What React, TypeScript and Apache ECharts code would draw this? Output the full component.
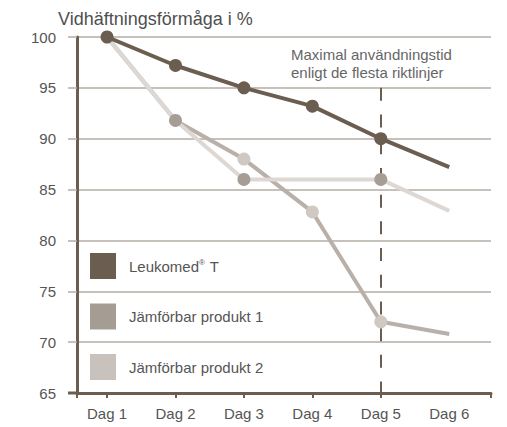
import React, { useEffect, useRef } from "react";
import * as echarts from "echarts";

const days = ["Dag 1", "Dag 2", "Dag 3", "Dag 4", "Dag 5", "Dag 6"];
const dayIndex = [1, 2, 3, 4, 5, 6];
const seriesNames = ["Leukomed® T", "Jämförbar produkt 1", "Jämförbar produkt 2"];
const leukomed = [100, 97.2, 95.0, 93.2, 90.0, 87.2];
const produkt1 = [100, 91.8, 88.0, 82.8, 72.0, 70.8];
const produkt2 = [100, 91.8, 86.0, 86.0, 86.0, 82.9];
const leukomedMarkers = [true, true, true, true, true, false];
const produkt1Markers = [false, false, true, true, true, false];
const produkt2Markers = [false, true, true, false, true, false];
const yTicks = [65, 70, 75, 80, 85, 90, 95, 100];
const limitDay = 5;
const titleText = "Vidhäftningsförmåga i %";
const noteLines = ["Maximal användningstid", "enligt de flesta riktlinjer"];

const DARK = "#6b5e51";
const MED_LINE = "#b8b0a9";
const MED_MARK = "#a69d94";
const LIGHT_LINE = "#ddd8d3";
const LIGHT_MARK = "#d0c9c3";
const GRID = "#b5aca4";
const TEXT = "#555555";
const legendColors = [DARK, "#a59c93", "#c9c2bc"];
const FONT = "'Liberation Sans', Arial, sans-serif";

const X_MIN = 0.561;
const X_MAX = 6.61;

function build(values: number[], markers: boolean[]) {
  return values.map((v, i) => ({
    value: [dayIndex[i], v],
    symbol: markers[i] ? "circle" : "none",
  }));
}

export default function App() {
  const ref = useRef<HTMLDivElement>(null);
  useEffect(() => {
    if (!ref.current) return;
    const chart = echarts.init(ref.current, null, { renderer: "svg" });
    const legendGraphics: any[] = [];
    seriesNames.forEach((name, i) => {
      const cy = 266 + i * 50.5;
      legendGraphics.push({
        type: "rect",
        shape: { x: 90, y: cy - 13, width: 26, height: 26 },
        style: { fill: legendColors[i] },
        silent: true,
      });
      legendGraphics.push({
        type: "text",
        x: 129,
        y: cy,
        style: {
          text: name.replace("®", "{sup|®}"),
          fontSize: 15,
          fontFamily: FONT,
          fill: TEXT,
          verticalAlign: "middle",
          rich: {
            sup: { fontSize: 8, verticalAlign: "top", fill: TEXT, fontFamily: FONT, padding: [0, 1, 6, 0] },
          },
        },
        silent: true,
      });
    });

    chart.setOption({
      animation: false,
      grid: { left: 77, right: 16, top: 37, bottom: 34, containLabel: false },
      xAxis: {
        type: "value",
        min: X_MIN,
        max: X_MAX,
        axisLine: { show: true, lineStyle: { color: DARK, width: 3 } },
        axisTick: {
          show: true,
          length: 5,
          inside: false,
          customValues: [X_MIN, 1, 2, 3, 4, 5, X_MAX],
          lineStyle: { color: DARK, width: 2 },
        },
        axisLabel: {
          customValues: dayIndex,
          formatter: (v: number) => days[Math.round(v) - 1],
          fontSize: 15,
          fontFamily: FONT,
          color: TEXT,
          margin: 13,
        },
        splitLine: { show: false },
      },
      yAxis: {
        type: "value",
        min: 65,
        max: 100,
        interval: 5,
        axisLine: { show: true, lineStyle: { color: DARK, width: 3 } },
        axisTick: { show: true, length: 9, inside: false, lineStyle: { color: GRID, width: 1.5 } },
        axisLabel: {
          formatter: (v: number) => (yTicks.includes(v) ? String(v) : ""),
          fontSize: 15,
          fontFamily: FONT,
          color: TEXT,
          margin: 21,
        },
        splitLine: { show: true, lineStyle: { color: GRID, width: 1.5 } },
      },
      graphic: [
        {
          type: "text",
          x: 58,
          y: 19,
          style: {
            text: titleText,
            fontSize: 18,
            fontFamily: FONT,
            fill: "#4f4f4f",
            verticalAlign: "middle",
          },
          silent: true,
        },
        {
          type: "text",
          x: 291,
          y: 45,
          style: {
            text: noteLines.join("\n"),
            fontSize: 15,
            lineHeight: 18,
            fontFamily: FONT,
            fill: "#666666",
            verticalAlign: "top",
          },
          silent: true,
        },
        {
          type: "line",
          shape: { x1: 68, y1: 393, x2: 78, y2: 393 },
          style: { stroke: DARK, lineWidth: 3 },
          silent: true,
          z: 10,
        },
        ...legendGraphics,
      ],
      series: [
        {
          name: seriesNames[1],
          type: "line",
          z: 2,
          data: build(produkt1, produkt1Markers),
          symbolSize: 13,
          lineStyle: { color: MED_LINE, width: 4 },
          itemStyle: { color: LIGHT_MARK },
          silent: true,
          markLine: {
            z: 1,
            silent: true,
            symbol: "none",
            label: { show: false },
            lineStyle: { color: DARK, width: 2, type: [13, 13.7] },
            data: [[{ coord: [limitDay, 95] }, { coord: [limitDay, 65] }]],
          },
        },
        {
          name: seriesNames[2],
          type: "line",
          z: 3,
          data: build(produkt2, produkt2Markers),
          symbolSize: 13,
          lineStyle: { color: LIGHT_LINE, width: 4 },
          itemStyle: { color: MED_MARK },
          silent: true,
        },
        {
          name: seriesNames[0],
          type: "line",
          z: 4,
          data: build(leukomed, leukomedMarkers),
          symbolSize: 13,
          lineStyle: { color: DARK, width: 4 },
          itemStyle: { color: DARK },
          silent: true,
        },
      ],
    });
    return () => chart.dispose();
  }, []);
  return (
    <div
      ref={ref}
      style={{ position: "absolute", left: 0, top: 0, width: 507, height: 427, background: "#fff" }}
    />
  );
}
